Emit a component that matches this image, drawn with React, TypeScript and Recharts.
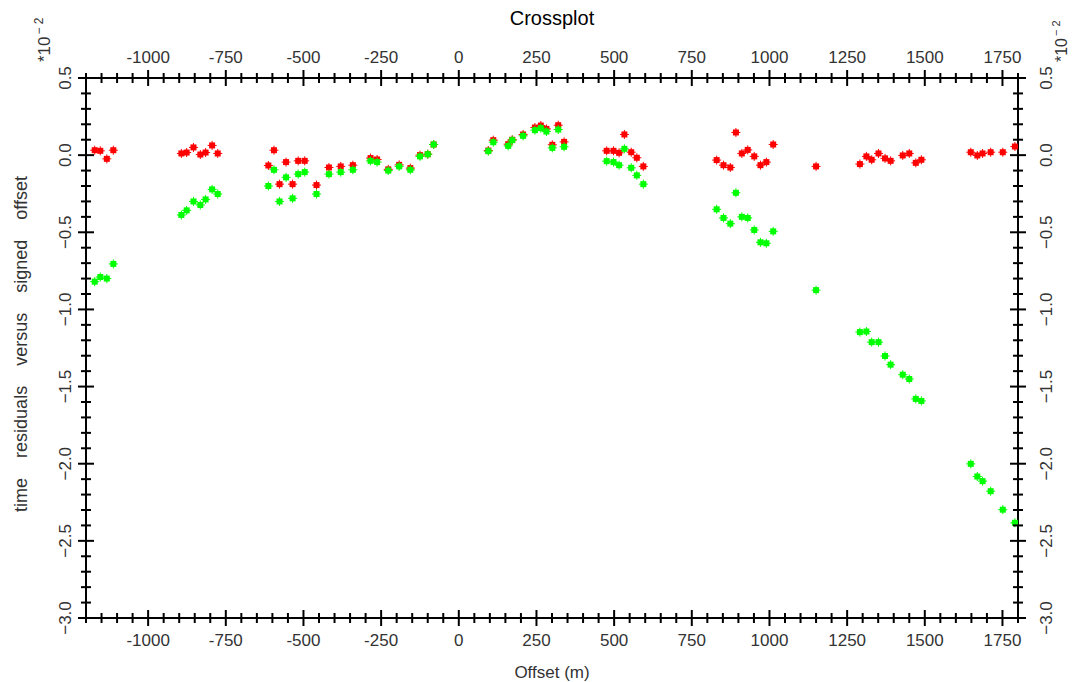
import React from 'react';
import { ScatterChart, Scatter, XAxis, YAxis } from 'recharts';

// Offsets (m) shared by both residual series
const offsets = [
  -1172, -1154, -1133, -1112,
  -893, -876, -854, -832, -815, -794, -776,
  -613, -595, -577, -556, -535, -517, -496, -458,
  -418, -380, -341,
  -284, -263, -227, -192, -156, -125, -100, -81,
  95, 111, 159, 172, 207, 245, 264, 282, 301, 320, 339,
  476, 498, 516, 533, 555, 573, 594,
  830, 852, 874, 892, 911, 930, 951, 971, 990, 1012,
  1150,
  1291, 1312, 1329, 1351, 1372, 1390, 1429, 1450, 1471, 1489,
  1648, 1669, 1686, 1712, 1751, 1790,
];

// time residuals (*10^-2), red series
const redResiduals = [
  0.032, 0.028, -0.024, 0.032,
  0.011, 0.017, 0.05, 0.004, 0.017, 0.063, 0.011,
  -0.067, 0.032, -0.188, -0.045, -0.188, -0.037, -0.037, -0.194,
  -0.08, -0.073, -0.065,
  -0.019, -0.028, -0.092, -0.063, -0.084, 0.0, 0.006, 0.069,
  0.03, 0.097, 0.071, 0.1, 0.134, 0.179, 0.192, 0.17, 0.067, 0.194, 0.086,
  0.028, 0.028, 0.015, 0.134, 0.019, -0.017, -0.073,
  -0.032, -0.065, -0.08, 0.147, 0.011, 0.034, -0.008, -0.065, -0.045, 0.069,
  -0.073,
  -0.058, -0.008, -0.03, 0.011, -0.021, -0.037, -0.002, 0.011, -0.05, -0.03,
  0.019, -0.002, 0.011, 0.019, 0.019, 0.056,
];

// time residuals (*10^-2), green series
const greenResiduals = [
  -0.82, -0.79, -0.8, -0.705,
  -0.388, -0.358, -0.3, -0.323, -0.287, -0.222, -0.252,
  -0.2, -0.095, -0.3, -0.144, -0.28, -0.123, -0.11, -0.252,
  -0.123, -0.11, -0.095,
  -0.037, -0.045, -0.1, -0.073, -0.095, -0.008, 0.006, 0.069,
  0.026, 0.084, 0.06, 0.097, 0.125, 0.162, 0.175, 0.153, 0.047, 0.166, 0.054,
  -0.039, -0.045, -0.065, 0.041, -0.082, -0.131, -0.188,
  -0.351, -0.407, -0.444, -0.244, -0.4, -0.407, -0.485, -0.565, -0.571, -0.494,
  -0.875,
  -1.147, -1.143, -1.212, -1.212, -1.302, -1.358, -1.423, -1.451, -1.58, -1.593,
  -2.001, -2.083, -2.113, -2.178, -2.298, -2.383,
];

const xMajorTicks = [-1000, -750, -500, -250, 0, 250, 500, 750, 1000, 1250, 1500, 1750];
const xTickLabels = ['-1000', '-750', '-500', '-250', '0', '250', '500', '750', '1000', '1250', '1500', '1750'];
const yMajorTicks = [0.5, 0, -0.5, -1, -1.5, -2, -2.5, -3];
const yTickLabels = ['0.5', '0.0', '\u22120.5', '\u22121.0', '\u22121.5', '\u22122.0', '\u22122.5', '\u22123.0'];

const xDomain = [-1200, 1800];
const yDomain = [-3, 0.5];

const xMinorTicks = Array.from({ length: 61 }, (_, i) => -1200 + 50 * i);
const yMinorTicks = Array.from({ length: 36 }, (_, i) => Math.round((0.5 - 0.1 * i) * 10) / 10);

const redData = offsets.map((x, i) => ({ x, y: redResiduals[i] }));
const greenData = offsets.map((x, i) => ({ x, y: greenResiduals[i] }));

const FONT = '"Liberation Sans", Arial, Helvetica, sans-serif';
const LABEL_COLOR = '#333';

const makeMarker = (color: string) => (props: any) => {
  const { cx, cy } = props;
  if (cx == null || cy == null) return <g />;
  return (
    <g>
      <rect x={cx - 3} y={cy - 3} width={6} height={6} fill={color} />
      <path d={`M${cx - 4.5},${cy}H${cx + 4.5}M${cx},${cy - 4.5}V${cy + 4.5}`} stroke={color} strokeWidth={1} />
    </g>
  );
};

const xMajorIndex = (v: number) => xMajorTicks.findIndex((m) => Math.abs(m - v) < 1e-6);
const yMajorIndex = (v: number) => yMajorTicks.findIndex((m) => Math.abs(m - v) < 1e-6);

const XTick = (side: 'top' | 'bottom') => (props: any) => {
  const { x, y, payload } = props;
  const idx = xMajorIndex(payload.value);
  const h = idx >= 0 ? 8 : 5;
  return (
    <g>
      <line x1={x} x2={x} y1={y - h} y2={y + h} stroke="#000" strokeWidth={2} />
      {idx >= 0 && (
        <text
          x={x}
          y={side === 'bottom' ? y + 28 : y - 15}
          textAnchor="middle"
          fontSize={17}
          fill={LABEL_COLOR}
          fontFamily={FONT}
        >
          {xTickLabels[idx]}
        </text>
      )}
    </g>
  );
};

const YTick = (side: 'left' | 'right') => (props: any) => {
  const { x, y, payload } = props;
  const idx = yMajorIndex(payload.value);
  const h = idx >= 0 ? 8 : 5;
  const bx = side === 'left' ? x - 15 : x + 34;
  return (
    <g>
      <line x1={x - h} x2={x + h} y1={y} y2={y} stroke="#000" strokeWidth={2} />
      {idx >= 0 && (
        <text
          transform={`translate(${bx},${y}) rotate(-90)`}
          textAnchor="middle"
          fontSize={17}
          fill={LABEL_COLOR}
          fontFamily={FONT}
        >
          {yTickLabels[idx]}
        </text>
      )}
    </g>
  );
};

const axisLine = { stroke: '#000', strokeWidth: 2 };

export default function App() {
  return (
    <div style={{ position: 'absolute', left: 0, top: 0, width: 1073, height: 682, background: '#fff' }}>
      <ScatterChart width={1073} height={682} margin={{ top: 0, right: 0, bottom: 0, left: 0 }}>
        <XAxis
          xAxisId="bottom"
          orientation="bottom"
          type="number"
          dataKey="x"
          domain={xDomain}
          allowDataOverflow
          ticks={xMinorTicks}
          interval={0}
          tickSize={0}
          tickMargin={0}
          tickLine={false}
          axisLine={axisLine}
          tick={XTick('bottom')}
          height={64}
        />
        <XAxis
          xAxisId="top"
          orientation="top"
          type="number"
          dataKey="x"
          domain={xDomain}
          allowDataOverflow
          ticks={xMinorTicks}
          interval={0}
          tickSize={0}
          tickMargin={0}
          tickLine={false}
          axisLine={axisLine}
          tick={XTick('top')}
          height={78}
        />
        <YAxis
          yAxisId="left"
          orientation="left"
          type="number"
          dataKey="y"
          domain={yDomain}
          allowDataOverflow
          ticks={yMinorTicks}
          interval={0}
          tickSize={0}
          tickMargin={0}
          tickLine={false}
          axisLine={axisLine}
          tick={YTick('left')}
          width={86}
        />
        <YAxis
          yAxisId="right"
          orientation="right"
          type="number"
          dataKey="y"
          domain={yDomain}
          allowDataOverflow
          ticks={yMinorTicks}
          interval={0}
          tickSize={0}
          tickMargin={0}
          tickLine={false}
          axisLine={axisLine}
          tick={YTick('right')}
          width={55}
        />
        <Scatter
          name="red"
          data={redData}
          xAxisId="bottom"
          yAxisId="left"
          fill="#ff0000"
          shape={makeMarker('#ff0000')}
          isAnimationActive={false}
        />
        <Scatter
          name="green"
          data={greenData}
          xAxisId="bottom"
          yAxisId="left"
          fill="#00ff00"
          shape={makeMarker('#00ff00')}
          isAnimationActive={false}
        />
        <Scatter
          name="topRightRef"
          data={greenData}
          xAxisId="top"
          yAxisId="right"
          fill="none"
          shape={() => <g />}
          isAnimationActive={false}
        />
      </ScatterChart>
      <svg
        width={1073}
        height={682}
        style={{ position: 'absolute', left: 0, top: 0, pointerEvents: 'none' }}
        fontFamily={FONT}
      >
        <text x={552} y={25} textAnchor="middle" fontSize={20} fill="#000">
          Crossplot
        </text>
        <text x={552} y={678} textAnchor="middle" fontSize={17} fill={LABEL_COLOR}>
          Offset (m)
        </text>
        <text
          transform="translate(27,344) rotate(-90)"
          textAnchor="middle"
          fontSize={18}
          fill={LABEL_COLOR}
          style={{ wordSpacing: 15 }}
        >
          time residuals versus signed offset
        </text>
        <text transform="translate(50,62) rotate(-90)" fontSize={17} fill={LABEL_COLOR}>
          *10
          <tspan dy={-7} dx={2} fontSize={12}>
            {'\u2212 2'}
          </tspan>
        </text>
        <text transform="translate(1067,62) rotate(-90)" fontSize={16} fill={LABEL_COLOR}>
          *10
          <tspan dy={-7} dx={2} fontSize={11}>
            {'\u2212 2'}
          </tspan>
        </text>
      </svg>
    </div>
  );
}
